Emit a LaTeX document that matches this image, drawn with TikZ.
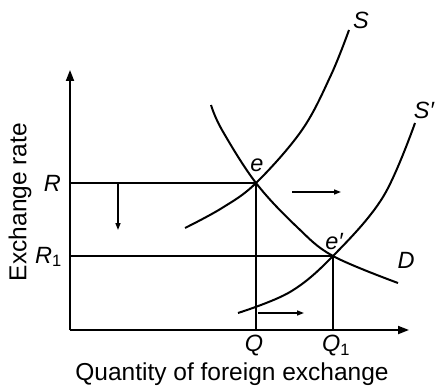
\documentclass[tikz,border=0pt]{standalone}
\usepackage{fontspec}
\setmainfont{Liberation Sans}
\usetikzlibrary{arrows.meta}
\begin{document}
\begin{tikzpicture}[x=1pt,y=-1pt,
  axis/.style={line width=1.9pt,-{Triangle[length=11pt,width=8pt]}},
  guide/.style={line width=1.4pt},
  curve/.style={line width=2pt},
  shift arrow/.style={line width=1.5pt,-{Triangle[length=7pt,width=5pt]}},
  lbl/.style={font=\fontsize{23.5}{26}\selectfont\itshape, inner sep=0pt},
  ttl/.style={font=\fontsize{24.5}{28}\selectfont, inner sep=0pt}]
\useasboundingbox (0,0) rectangle (435,385);
% key points
\coordinate (O) at (70,330);
\coordinate (ytip) at (70,70);
\coordinate (xtip) at (409,330);
\coordinate (Ry) at (70,183);
\coordinate (R1y) at (70,256);
\coordinate (e) at (256,183);
\coordinate (e1) at (333,256);
\coordinate (Qx) at (256,330);
\coordinate (Q1x) at (333,330);
% guides
\draw[guide] (Ry) -- (e) -- (Qx);
\draw[guide] (R1y) -- (e1) -- (Q1x);
% axes
\draw[axis] (O) -- (ytip);
\draw[axis] (O) -- (xtip);
% curves
\draw[curve] plot[smooth, tension=0.6] coordinates {(211,105) (222,130) (256,183) (297,227) (333,256) (398,283)};
\draw[curve] plot[smooth, tension=0.6] coordinates {(185,228) (222,208) (256,183) (302,130) (331,75) (349,30)};
\draw[curve] plot[smooth, tension=0.6] coordinates {(238,313) (290,292) (333,256) (383,197) (415,123)};
% shift arrows
\coordinate (a1s) at (118,184); \coordinate (a1e) at (118,230);
\coordinate (a2s) at (292,192); \coordinate (a2e) at (341,192);
\coordinate (a3s) at (258,313); \coordinate (a3e) at (304,313);
\draw[shift arrow] (a1s) -- (a1e);
\draw[shift arrow] (a2s) -- (a2e);
\draw[shift arrow] (a3s) -- (a3e);
% labels
\node[lbl] (lS) at (361,20) {S};
\node[lbl] (lS1) at (424,110) {S′};
\node[lbl] (lD) at (406,260) {D};
\node[lbl] (le) at (257,165) {e};
\node[lbl] (le1) at (334,242) {e′};
\node[lbl,anchor=east] (lR) at (61,183) {R};
\node[lbl,anchor=east] (lR1) at (62,257) {R\textsubscript{\upshape 1}};
\node[lbl] (lQ) at (254,346) {Q};
\node[lbl] (lQ1) at (336,346) {Q\textsubscript{\upshape 1}};
\node[ttl] (lx) at (232,374) {Quantity of foreign exchange};
\node[ttl,rotate=90] (ly) at (20,202) {Exchange rate};
\end{tikzpicture}
\end{document}
